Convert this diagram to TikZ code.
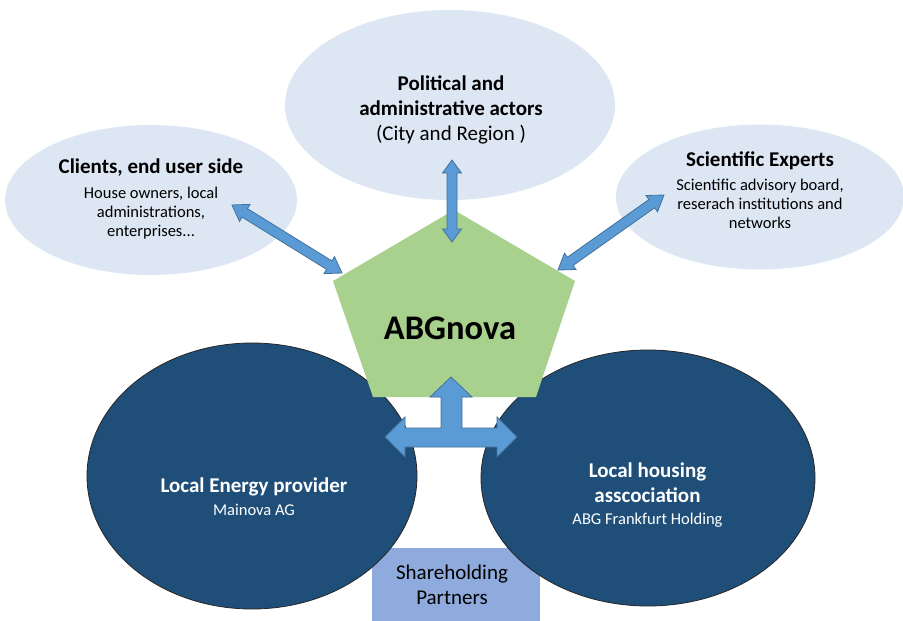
\documentclass[tikz,border=0pt]{standalone}
\usepackage{fontspec}
\setmainfont{Carlito}
\usetikzlibrary{shapes.geometric,calc}

\definecolor{cloud}{RGB}{221,231,244}
\definecolor{leaf}{RGB}{169,209,142}
\definecolor{navy}{RGB}{31,78,121}
\definecolor{share}{RGB}{143,170,220}
\definecolor{arrowfill}{RGB}{91,155,213}
\definecolor{arrowline}{RGB}{65,113,156}

\tikzset{
  cloudshape/.style={ellipse, fill=cloud, inner sep=0pt},
  partnershape/.style={ellipse, fill=navy, draw=black!85, line width=0.8pt, inner sep=0pt},
  caption/.style={align=center, inner sep=0pt, font=\fontsize{16.5}{19}\selectfont},
  duplex/.style={fill=arrowfill, draw=arrowline, line width=0.8pt, line join=miter},
}
\newcommand\headline[1]{{\fontsize{21}{25}\selectfont\bfseries #1}}

% double-headed block arrow between two named coordinates
% #3 shaft half width, #4 head half width, #5 head length
\newcommand\duplexarrow[5]{%
  \coordinate (da1) at ($(#1)!#5!(#2)$);
  \coordinate (da2) at ($(#2)!#5!(#1)$);
  \draw[duplex] (#1)
    -- ($(da1)!#4!90:(#2)$) -- ($(da1)!#3!90:(#2)$)
    -- ($(da2)!#3!-90:(#1)$) -- ($(da2)!#4!-90:(#1)$)
    -- (#2)
    -- ($(da2)!#4!90:(#1)$) -- ($(da2)!#3!90:(#1)$)
    -- ($(da1)!#3!-90:(#2)$) -- ($(da1)!#4!-90:(#2)$)
    -- cycle;
}

\begin{document}
\begin{tikzpicture}[x=1pt, y=-1pt]
\useasboundingbox[fill=white] (0,0) rectangle (903,621);

% stakeholder clouds
\node[cloudshape, minimum width=330pt, minimum height=190pt] (political) at (450,105) {};
\node[cloudshape, minimum width=292pt, minimum height=150pt] (clients) at (151,200) {};
\node[cloudshape, minimum width=288pt, minimum height=145pt] (experts) at (760,197) {};

\node[caption, font=\fontsize{21}{25}\selectfont] (politicaltext) at (451,110)
  {\textbf{Political and}\\ \textbf{administrative actors}\\ (City and Region )};
\node[caption] (clientstext) at (151,199)
  {\headline{Clients, end user side}\\[6pt]
   House owners, local\\ administrations,\\ enterprises...};
\node[caption] (expertstext) at (760,190)
  {\headline{Scientific Experts}\\[5pt]
   Scientific advisory board,\\ reserach institutions and\\ networks};

% shareholding partners
\node[fill=share, minimum width=168pt, minimum height=75pt, inner sep=0pt] (share) at (456,585) {};
\node[caption, font=\fontsize{21}{25}\selectfont] (sharetext) at (452,584.5)
  {Shareholding\\ Partners};

% partner companies
\node[partnershape, minimum width=330pt, minimum height=266pt] (energy) at (252,476) {};
\node[partnershape, minimum width=334pt, minimum height=256pt] (housing) at (648,478) {};

\node[caption, text=white] (energytext) at (254,496.5)
  {\headline{Local Energy provider}\\[4pt]
   Mainova AG};
\node[caption, text=white] (housingtext) at (647.5,495.5)
  {\headline{Local housing}\\[6pt]
   \headline{asscociation}\\[3pt]
   ABG Frankfurt Holding};

% central company
\coordinate (pA) at (454,210);
\coordinate (pB) at (575,281);
\coordinate (pC) at (536,397);
\coordinate (pD) at (373,397);
\coordinate (pE) at (333,281);
\fill[leaf] (pA) -- (pB) -- (pC) -- (pD) -- (pE) -- cycle;
\node[font=\fontsize{34.5}{38}\selectfont\bfseries, inner sep=0pt] (abgnova) at (450,328) {ABGnova};

% links to the stakeholders
\coordinate (upTop) at (452,160);
\coordinate (upBot) at (452,242);
\coordinate (leftOut) at (232,205);
\coordinate (leftIn) at (342,273);
\coordinate (rightOut) at (664,195);
\coordinate (rightIn) at (558,270);
\duplexarrow{upTop}{upBot}{5pt}{9.5pt}{13pt}
\duplexarrow{leftOut}{leftIn}{5pt}{10pt}{15pt}
\duplexarrow{rightOut}{rightIn}{5pt}{10pt}{15pt}

% three-way link between ABGnova and the partners
\draw[duplex] (451,377) -- (472,397) -- (462,397) -- (462,428) -- (497,428)
  -- (497,417) -- (517,437) -- (497,457) -- (497,447) -- (405,447)
  -- (405,457) -- (385,437) -- (405,417) -- (405,428) -- (441,428)
  -- (441,397) -- (430,397) -- cycle;
\end{tikzpicture}
\end{document}
